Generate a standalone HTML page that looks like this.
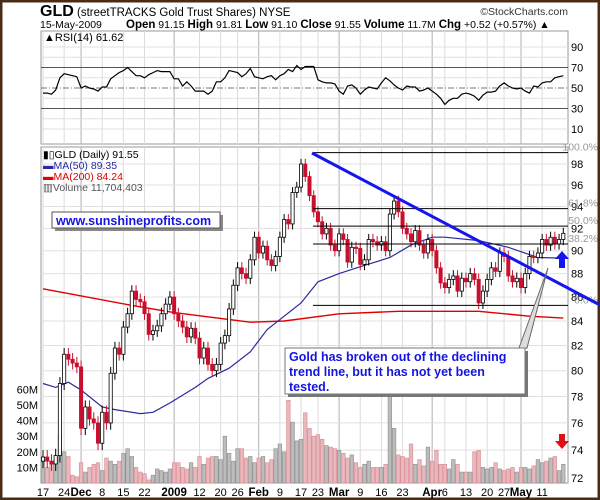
<!DOCTYPE html>
<html><head><meta charset="utf-8"><style>
body{margin:0;background:#fff}
svg{display:block;font-family:"Liberation Sans",sans-serif}
</style></head><body>
<svg id="chart" width="600" height="500" viewBox="0 0 600 500">
<rect x="1" y="1" width="598" height="498" fill="#fff" stroke="#4a2c12" stroke-width="3"/>
<g>
<text x="40" y="16" font-size="16" font-weight="bold">GLD</text>
<text x="77" y="16" font-size="11.5">(streetTRACKS Gold Trust Shares) NYSE</text>
<text x="568" y="15" font-size="10.5" text-anchor="end" fill="#333">©StockCharts.com</text>
<text x="40" y="28" font-size="10.5">15-May-2009</text>
<text x="126" y="28" font-size="10.5"><tspan font-weight="bold" font-size="11.5">Open</tspan> 91.15 <tspan font-weight="bold" font-size="11.5">High</tspan> 91.81 <tspan font-weight="bold" font-size="11.5">Low</tspan> 91.10 <tspan font-weight="bold" font-size="11.5">Close</tspan> 91.55 <tspan font-weight="bold" font-size="11.5">Volume</tspan> 11.7M <tspan font-weight="bold" font-size="11.5">Chg</tspan> +0.52 (+0.57%) ▲</text>
</g>
<g id="grid"></g>
<g id="rsi"></g>
<g id="main"></g>
<g id="overlay"></g>
</svg>
<script>
const dayLabels=["17","24","Dec","8","15","22","2009","12","20","26","Feb","9","17","23","Mar","9","16","23","Apr","6","13","20","27","May","11"];
const dayLabelIdx=[0,5,9,14,19,24,31,37,42,46,51,56,61,65,70,75,80,85,92,95,100,105,109,113,118];
const monthFlags=[0,0,1,0,0,0,1,0,0,0,1,0,0,0,1,0,0,0,1,0,0,0,0,1,0];
const closes=[73.5,73.2,73.0,73.6,79.0,81.3,80.9,80.6,80.3,
75.6,77.2,76.3,76.0,74.5,76.8,76.0,79.8,81.8,81.3,83.5,84.6,86.5,85.8,85.6,84.6,82.9,83.2,83.6,84.6,85.4,86.0,
84.6,84.0,83.5,82.7,83.4,82.6,81.0,81.8,80.5,80.0,80.5,82.2,82.8,85.0,87.0,88.5,88.0,87.6,89.2,91.2,
89.8,90.4,89.2,88.7,89.5,91.2,92.8,92.4,95.3,95.8,98.0,96.8,95.0,93.5,92.6,91.5,92.0,90.5,90.0,
91.5,91.0,89.0,90.3,90.2,88.8,89.2,91.0,90.8,90.5,90.8,90.0,93.3,94.5,93.5,92.0,91.5,90.8,91.8,90.5,89.8,91.0,
90.0,88.5,87.2,86.8,87.5,87.8,86.5,87.6,87.3,88.0,87.5,85.5,86.5,87.5,88.5,88.2,89.8,89.5,87.8,87.3,87.6,
86.8,88.0,89.5,89.4,89.8,91.0,90.5,91.2,90.6,91.0,91.55];
const volumes=[16,10,14,15,31,20,17,5,4,
13,7,10,12,13,8,16,14,12,14,19,22,17,10,7,6,2,5,9,8,7,9,
13,13,10,9,13,10,17,12,16,17,17,15,30,19,14,22,22,16,17,13,
16,17,13,15,22,25,20,53,39,27,28,45,35,30,31,28,24,23,22,
21,19,16,18,13,10,12,14,10,10,10,12,56,35,18,17,16,25,12,15,11,23,
14,21,12,12,9,15,12,7,7,7,20,21,10,9,10,13,9,8,9,10,7,
10,10,9,11,15,13,14,16,17,8,12];
const rsiValues=[45,45,44,48,60,64,63,62,61,50,52,50,49,47,51,51,59,62,65,67,70,66,62,62,60,63,65,67,66,66,66,59,59,52,56,52,47,47,47,44,47,56,56,60,67,66,65,61,64,69,61,60,59,61,62,58,62,64,68,66,72,68,71,71,71,58,56,55,55,54,47,44,52,53,50,44,48,51,50,49,55,60,57,53,50,48,52,51,51,47,48,50,47,44,40,34,38,40,40,44,45,44,42,38,43,46,46,47,52,55,52,50,49,50,47,45,52,51,55,56,56,60,61,62];
const ma50Days=[0,3,6,9,14,17,23,26,30,36,39,44,49,53,61,65,70,75,82,87,92,95,103,110,117,123];
const ma50Vals=[79.0,78.7,79.1,78.5,77.2,77.0,76.7,76.8,77.5,78.7,79.4,80.2,81.5,83.3,85.5,87.3,88.0,88.6,89.4,90.5,91.2,91.2,90.9,90.3,89.4,89.35];
const ma200Days=[0,21,31,49,57,70,84,103,115,123];
const ma200Vals=[86.7,85.3,84.7,83.9,84.0,84.6,84.8,84.8,84.4,84.24];
const fibLevels=[99.1,93.8,92.2,90.6,85.3];
const fibLabels=["100.0%","61.8%","50.0%","38.2%","0.0%"];
const priceTicks=[72,74,76,78,80,82,84,86,88,90,92,94,96,98];
const rsiTicks=[10,30,50,70,90];
const volTicks=[10,20,30,40,50,60];

const NS="http://www.w3.org/2000/svg";
const L=41,R=568,RT=31,RB=144,MT=147,MB=483;
const xD=i=>43+i*4.23;
const yP=p=>164+(Math.log(98)-Math.log(p))*1018.5;
const yR=v=>88-(v-50)*1.025;
const yV=v=>MB-v*1.56;
function mk(tag,attrs,parent){const e=document.createElementNS(NS,tag);for(const k in attrs)e.setAttribute(k,attrs[k]);parent.appendChild(e);return e;}
const grid=document.getElementById('grid'),rsiG=document.getElementById('rsi'),mainG=document.getElementById('main'),ov=document.getElementById('overlay');

let p1=mk('rect',{x:L,y:RT,width:R-L,height:RB-RT,fill:'#fff',stroke:'#999'},grid);


let p2=mk('rect',{x:L,y:MT,width:R-L,height:MB-MT,fill:'#fff',stroke:'#999'},grid);


dayLabels.forEach((t,k)=>{const x=xD(dayLabelIdx[k]);const c=monthFlags[k]?'#b0b0b0':'#dcdcdc';
 mk('line',{x1:x,y1:RT,x2:x,y2:RB,stroke:c},grid);mk('line',{x1:x,y1:MT,x2:x,y2:MB,stroke:c},grid);
 const tx=mk('text',{x:x,y:496,'font-size':monthFlags[k]?11.5:11,'font-weight':monthFlags[k]?'bold':'normal','text-anchor':'middle'},grid);tx.textContent=t;
 
 });
for(let v=10;v<=90;v+=10){if(v==30||v==50||v==70)continue;mk('line',{x1:L,y1:yR(v),x2:R,y2:yR(v),stroke:'#e0e0e0'},grid);}
rsiTicks.forEach(v=>{const t=mk('text',{x:571,y:yR(v)+4,'font-size':11},grid);t.textContent=v;
 
 });
mk('line',{x1:L,y1:yR(70),x2:R,y2:yR(70),stroke:'#555'},grid);
mk('line',{x1:L,y1:yR(30),x2:R,y2:yR(30),stroke:'#555'},grid);
mk('line',{x1:L,y1:yR(50),x2:R,y2:yR(50),stroke:'#777','stroke-dasharray':'6,2,1,2'},grid);
priceTicks.forEach(p=>{mk('line',{x1:L,y1:yP(p),x2:R,y2:yP(p),stroke:'#e0e0e0'},grid);
 const t=mk('text',{x:571,y:yP(p)+4,'font-size':11},grid);t.textContent=p;
 
 });
volTicks.forEach(v=>{const t=mk('text',{x:38,y:yV(v)+4,'font-size':11,'text-anchor':'end'},grid);t.textContent=v+'M';
 
 });
let d='';rsiValues.forEach((v,i)=>{d+=(i?'L':'M')+xD(i).toFixed(1)+','+yR(v).toFixed(1);});
const rl=mk('path',{d:d,fill:'none',stroke:'#000','stroke-width':1.2},rsiG);


const rt=mk('text',{x:44,y:41,'font-size':11},rsiG);rt.textContent='▲RSI(14) 61.62';


volumes.forEach((v,i)=>{const down=i>0&&closes[i]<closes[i-1];
 const b=mk('rect',{x:xD(i)-1.8,y:yV(v),width:3.6,height:v*1.56,fill:down?'#e8b8bc':'#bcbcbc',stroke:down?'#d88a92':'#8e8e8e','stroke-width':0.6},mainG);
 
 });
function maPath(days,vals,col,name,w){let s='';days.forEach((dd,k)=>{s+=(k?'L':'M')+xD(dd).toFixed(1)+','+yP(vals[k]).toFixed(1);});
 const e=mk('path',{d:s,fill:'none',stroke:col,'stroke-width':w},mainG);
 
 }
maPath(ma200Days,ma200Vals,'#e00000','ma200-line',1.4);
maPath(ma50Days,ma50Vals,'#2a2aa0','ma50-line',1.2);
closes.forEach((c,i)=>{const o=i?closes[i-1]:c-0.3;const hi=Math.max(o,c)+0.5,lo=Math.min(o,c)-0.5;const down=c<o;const col=down?'#c8102e':'#000';const x=xD(i);
 const g=mk('g',{},mainG);
 
 
 mk('line',{x1:x,y1:yP(hi),x2:x,y2:yP(lo),stroke:col,'stroke-width':1},g);
 const t=Math.min(yP(o),yP(c)),h=Math.max(1,Math.abs(yP(o)-yP(c)));
 mk('rect',{x:x-1.6,y:t,width:3.2,height:h,fill:down?col:'#fff',stroke:col,'stroke-width':0.8},g);});
const leg=[['▮▯GLD (Daily) 91.55','#000',158],['▬MA(50) 89.35','#2a2aa0',169],['▬MA(200) 84.24','#e00000',180],['▥Volume 11,704,403','#555',191]];
leg.forEach(l=>{const t=mk('text',{x:43,y:l[2],'font-size':10.5,fill:l[1]},mainG);t.textContent=l[0];
 
 });
fibLevels.forEach((p,k)=>{mk('line',{x1:313,y1:yP(p),x2:R,y2:yP(p),stroke:'#000','stroke-width':1},ov);
 const t=mk('text',{x:598,y:yP(p)-2,'font-size':10.5,'text-anchor':'end',fill:'#999'},ov);t.textContent=fibLabels[k];
 
 });
</script>
<svg width="600" height="500" style="position:absolute;left:0;top:0">
<line x1="312" y1="153" x2="600" y2="305" stroke="#1515f0" stroke-width="3"/>
<polygon points="562,251 555,259 559,259 559,268 565,268 565,259 569,259" fill="#1515f0"/>
<polygon points="562,449 555,441 559,441 559,434 565,434 565,441 569,441" fill="#e01010"/>
<polygon points="519,348 548,268 527,348" fill="#ddd" stroke="#666" stroke-width="1"/>
<rect x="288" y="351" width="240" height="46" fill="#777"/>
<rect x="285" y="348" width="240" height="46" fill="#fff" stroke="#777"/>
<text font-size="12.5" font-weight="bold" fill="#1515e0" font-family="Liberation Sans,sans-serif"><tspan x="289" y="361">Gold has broken out of the declining</tspan><tspan x="289" y="376">trend line, but it has not yet been</tspan><tspan x="289" y="391">tested.</tspan></text>
<rect x="55" y="215" width="168" height="16" fill="#888"/>
<rect x="52" y="212" width="168" height="16" fill="#fff" stroke="#555"/>
<text x="56" y="225" font-size="12.5" font-weight="bold" fill="#1515e0" font-family="Liberation Sans,sans-serif">www.sunshineprofits.com</text>
</svg>
</body></html>
